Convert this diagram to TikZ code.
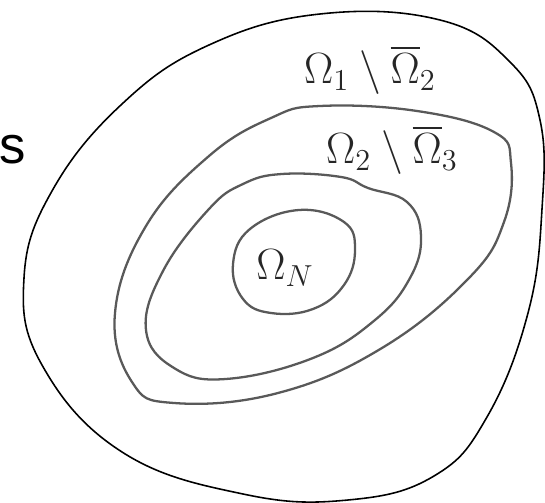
\documentclass[tikz,border=0pt]{standalone}
\usepackage{fontspec}
\usepackage{amsmath, amssymb}
\newfontfamily\arialfont{Liberation Sans}
\begin{document}
\begin{tikzpicture}[x=0.02cm, y=-0.02cm,
    outer/.style = {draw=black, line width=0.9pt},
    pencil/.style = {draw=black!65, line width=1.3pt},
    lab/.style = {font=\huge, text=black!85, scale=1.2}]
    \useasboundingbox (0,0) rectangle (545,503);

    % domains, outermost first
    \draw[outer] plot[smooth cycle, tension=0.7] coordinates {(320,14) (440,20) (510,62) (540,120) (542,209) (528,313) (487,417) (434,476) (348,500) (243,494) (122,452) (42,365) (24,278) (52,191) (122,104) (209,45)};
    \draw[pencil] plot[smooth cycle, tension=0.7] coordinates {(320,106) (417,111) (494,132) (511,163) (504,222) (469,278) (382,348) (278,393) (174,403) (132,382) (115,313) (146,226) (209,156) (271,118)};
    \draw[pencil] plot[smooth cycle, tension=0.7] coordinates {(282,174) (341,177) (368,188) (407,202) (421,236) (410,278) (375,320) (313,358) (226,379) (174,368) (146,330) (163,271) (209,209) (243,184)};
    \draw[pencil] plot[smooth cycle, tension=0.7] coordinates {(299,210) (344,222) (355,250) (344,285) (313,309) (271,313) (243,299) (233,264) (250,229)};

    \node[lab] (ring1) at (370,70) {$\Omega_1\setminus\overline{\Omega}_2$};
    \node[lab] (ring2) at (392,150) {$\Omega_2\setminus\overline{\Omega}_3$};
    \node[lab] (core) at (285,268) {$\Omega_N$};
    \node[font=\arialfont\fontsize{30}{34}\selectfont] (s) at (13,150) {s};
\end{tikzpicture}
\end{document}
